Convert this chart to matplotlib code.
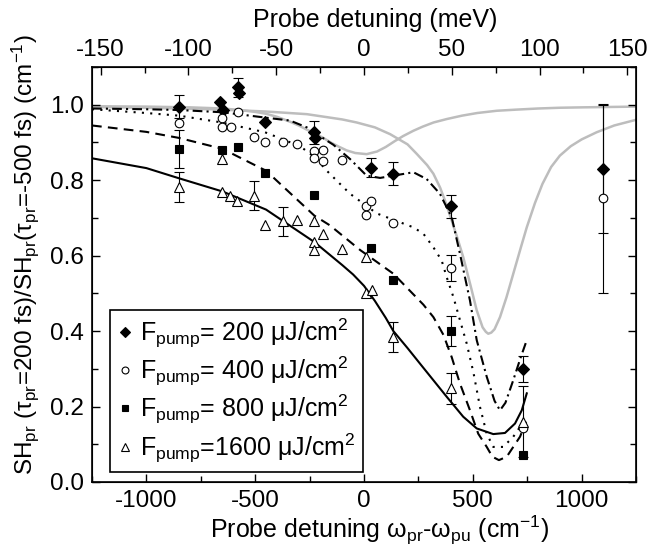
import numpy as np
import matplotlib
matplotlib.use('Agg')
import matplotlib.pyplot as plt
from matplotlib.ticker import MultipleLocator

plt.rcParams['font.family'] = ['Liberation Sans', 'DejaVu Sans']
plt.rcParams['mathtext.default'] = 'regular'
plt.rcParams['axes.unicode_minus'] = False
plt.rcParams['lines.scale_dashes'] = False

# --- data points (probe detuning in cm^-1, normalised SH) ---
x_200 = [-850, -660, -650, -580, -575, -455, -230, -225, 32, 135, 398, 732, 1097]
y_200 = [0.995, 1.006, 0.985, 1.046, 1.03, 0.953, 0.927, 0.913, 0.833, 0.817, 0.731, 0.30, 0.830]
e_200 = [0.03, 0, 0, 0.025, 0, 0, 0.03, 0, 0.025, 0.03, 0.03, 0.035, 0.17]

x_400 = [-850, -654, -654, -613, -578, -505, -455, -374, -309, -228, -228, -187, -187,
         -100, 9, 9, 32, 135, 398, 730, 1097]
y_400 = [0.951, 0.965, 0.942, 0.942, 0.981, 0.915, 0.902, 0.900, 0.896, 0.878, 0.859, 0.880, 0.850,
         0.854, 0.731, 0.708, 0.746, 0.686, 0.568, 0.144, 0.752]
e_400 = [0, 0, 0, 0, 0, 0, 0, 0, 0, 0, 0, 0, 0,
         0, 0, 0, 0, 0, 0.035, 0, 0.25]

x_800 = [-850, -654, -578, -455, -228, 32, 135, 398, 732]
y_800 = [0.883, 0.880, 0.889, 0.818, 0.760, 0.620, 0.536, 0.400, 0.071]
e_800 = [0.05, 0, 0, 0, 0, 0, 0, 0.04, 0]

x_1600 = [-850, -654, -654, -616, -582, -505, -455, -374, -306, -228, -228, -228, -187,
          -100, 9, 9, 35, 135, 398, 732]
y_1600 = [0.783, 0.856, 0.770, 0.757, 0.746, 0.759, 0.682, 0.691, 0.695, 0.693, 0.636, 0.616, 0.658,
          0.618, 0.596, 0.501, 0.508, 0.384, 0.248, 0.160]
e_1600 = [0.04, 0, 0, 0, 0, 0.038, 0, 0.038, 0, 0, 0, 0, 0,
          0, 0, 0, 0, 0.04, 0.04, 0.095]

# --- fit curves ---
fx_200 = [-1250, -1000, -850, -650, -455, -340, -263, -171, -141, -64, 12, 74, 135, 227, 288,
          349, 380, 403, 441, 487, 518, 564, 600, 625, 650, 686, 720, 748]
fy_200 = [0.99, 0.988, 0.986, 0.98, 0.966, 0.958, 0.94, 0.905, 0.894, 0.856, 0.812, 0.806, 0.812, 0.821, 0.803,
          0.764, 0.728, 0.702, 0.605, 0.481, 0.376, 0.279, 0.215, 0.19, 0.21, 0.27, 0.33, 0.376]

fx_400 = [-1250, -1000, -850, -654, -455, -294, -228, -171, -110, -64, 58, 227, 273, 319,
          357, 380, 411, 441, 472, 503, 533, 564, 594, 640, 686, 717, 740]
fy_400 = [0.988, 0.978, 0.971, 0.953, 0.927, 0.89, 0.862, 0.825, 0.79, 0.764, 0.712, 0.675, 0.658, 0.622,
          0.587, 0.543, 0.49, 0.429, 0.367, 0.29, 0.199, 0.128, 0.093, 0.093, 0.12, 0.146, 0.177]

fx_800 = [-1250, -1000, -850, -650, -450, -228, -156, -18, 135, 273, 319, 365, 403, 441, 487,
          525, 564, 590, 620, 656, 686, 717, 745]
fy_800 = [0.945, 0.928, 0.912, 0.883, 0.825, 0.706, 0.68, 0.615, 0.552, 0.47, 0.437, 0.39, 0.331, 0.261, 0.19,
          0.128, 0.093, 0.067, 0.058, 0.067, 0.093, 0.12, 0.16]

fx_1600 = [-1250, -1000, -850, -650, -450, -228, -100, -50, 0, 50, 100, 135, 200, 257, 380,
           456, 518, 594, 648, 694, 725, 748]
fy_1600 = [0.858, 0.832, 0.805, 0.77, 0.722, 0.636, 0.575, 0.55, 0.52, 0.48, 0.435, 0.40, 0.355, 0.314, 0.226,
           0.173, 0.142, 0.127, 0.130, 0.155, 0.19, 0.235]

# gray reference curves
gx_a = [-1250, -1000, -800, -650, -570, -500, -450, -400, -340, -300, -263, -220, -187, -150, -120,
        -80, -40, 12, 60, 100, 140, 180, 227, 270, 320, 380, 450, 520, 610, 700, 800, 900, 1000,
        1120, 1250]
gy_a = [0.996, 0.995, 0.993, 0.99, 0.986, 0.981, 0.976, 0.968, 0.955, 0.945, 0.934, 0.922, 0.912, 0.899, 0.89,
        0.879, 0.872, 0.869, 0.876, 0.888, 0.903, 0.917, 0.931, 0.942, 0.953, 0.962, 0.971, 0.978, 0.984, 0.987,
        0.99, 0.992, 0.993, 0.994, 0.995]

gx_b = [-1250, -1000, -700, -450, -263, -100, -34, 50, 120, 200, 242, 290, 319, 350, 372, 403,
        430, 456, 490, 518, 545, 560, 571, 585, 600, 625, 655, 686, 720, 748, 786, 820, 860, 900,
        950, 1000, 1069, 1150, 1250]
gy_b = [0.994, 0.992, 0.988, 0.982, 0.975, 0.961, 0.953, 0.94, 0.922, 0.895, 0.870, 0.84, 0.817, 0.78, 0.746,
        0.693, 0.645, 0.596, 0.52, 0.455, 0.41, 0.398, 0.393, 0.396, 0.405, 0.437, 0.49, 0.552, 0.62, 0.675,
        0.74, 0.79, 0.835, 0.865, 0.89, 0.908, 0.927, 0.945, 0.96]

labels = ['F$_{pump}$= 200 μJ/cm$^{2}$', 'F$_{pump}$= 400 μJ/cm$^{2}$',
          'F$_{pump}$= 800 μJ/cm$^{2}$', 'F$_{pump}$=1600 μJ/cm$^{2}$']

fig = plt.figure(figsize=(6.49, 5.48), dpi=100)
ax = fig.add_axes([92 / 649, 66 / 548, 544 / 649, 415 / 548])

gray = '#bdbdbd'
ax.plot(gx_a, gy_a, color=gray, lw=1.8, zorder=1)
ax.plot(gx_b, gy_b, color=gray, lw=1.8, zorder=1)

ax.plot(fx_200, fy_200, color='k', lw=1.5, dashes=(7, 3, 1.5, 3), zorder=2)
ax.plot(fx_400, fy_400, color='k', lw=1.5, dashes=(1.5, 4.5), zorder=2)
ax.plot(fx_800, fy_800, color='k', lw=1.5, dashes=(7, 4.5), zorder=2)
ax.plot(fx_1600, fy_1600, color='k', lw=1.5, zorder=2)

series = [
    (x_200, y_200, e_200, 'D', 'k', 6.0),
    (x_400, y_400, e_400, 'o', 'white', 6.2),
    (x_800, y_800, e_800, 's', 'k', 5.8),
    (x_1600, y_1600, e_1600, '^', 'white', 7.2),
]
handles = []
for (xs, ys, es, mk, fc, ms), lab in zip(series, labels):
    xs, ys, es = np.array(xs), np.array(ys), np.array(es)
    m = es > 0
    ax.errorbar(xs[m], ys[m], yerr=es[m], fmt='none', ecolor='k', elinewidth=0.8,
                capsize=3.6, capthick=0.8, zorder=3)
    h, = ax.plot(xs, ys, linestyle='none', marker=mk, ms=ms, mfc=fc, mec='k', mew=0.8,
                 zorder=4, label=lab)
    handles.append(h)

ax.set_xlim(-1250, 1250)
ax.set_ylim(0, 1.1)
ax.xaxis.set_major_locator(MultipleLocator(500))
ax.xaxis.set_minor_locator(MultipleLocator(250))
ax.yaxis.set_major_locator(MultipleLocator(0.2))
ax.yaxis.set_minor_locator(MultipleLocator(0.1))
ax.yaxis.set_major_formatter(plt.FormatStrFormatter('%.1f'))
ax.tick_params(which='both', direction='in', top=False, right=True, width=1.0, labelsize=17.5)
ax.tick_params(which='major', length=6, pad=6)
ax.tick_params(which='minor', length=4)
for sp in ax.spines.values():
    sp.set_linewidth(1.2)

ax.set_xlabel('Probe detuning ω$_{pr}$-ω$_{pu}$ (cm$^{-1}$)', fontsize=18, labelpad=1)
ax.xaxis.label.set_x(0.528)
ax.set_ylabel('SH$_{pr}$ (τ$_{pr}$=200 fs)/SH$_{pr}$(τ$_{pr}$=-500 fs) (cm$^{-1}$)', fontsize=17.5, labelpad=6)
ax.yaxis.label.set_y(0.547)

# top axis in meV (1 meV = 8.0655 cm^-1)
ax2 = ax.twiny()
ax2.set_xlim(-1250 / 8.0655, 1250 / 8.0655)
ax2.xaxis.set_major_locator(MultipleLocator(50))
ax2.xaxis.set_minor_locator(MultipleLocator(25))
ax2.tick_params(which='both', direction='in', width=1.0, labelsize=17.5)
ax2.tick_params(which='major', length=6, pad=4)
ax2.tick_params(which='minor', length=4)
ax2.set_xlabel('Probe detuning (meV)', fontsize=18, labelpad=9)
ax2.xaxis.label.set_x(0.52)

leg = ax.legend(handles=handles, loc='lower left', bbox_to_anchor=(0.033, 0.024),
                fontsize=18, frameon=True, fancybox=False, edgecolor='k', framealpha=1,
                handlelength=0.6, handletextpad=0.3, borderpad=0.3, labelspacing=0.2,
                markerscale=0.8, borderaxespad=0)
leg.get_frame().set_linewidth(1.2)

fig.savefig('out.png', dpi=100)
